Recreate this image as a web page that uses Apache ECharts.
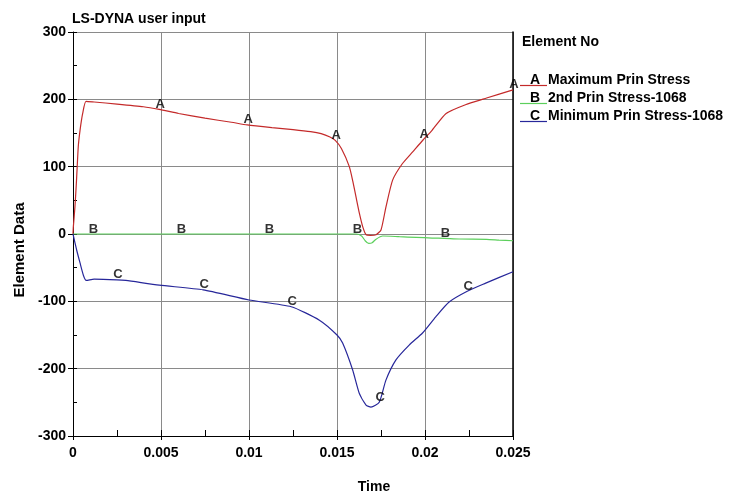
<!DOCTYPE html>
<html>
<head>
<meta charset="utf-8">
<script src="https://cdn.jsdelivr.net/npm/echarts@6/dist/echarts.min.js"></script>
<style>
  html, body { margin: 0; padding: 0; background: #fff; }
  #chart { width: 738px; height: 497px; }
</style>
</head>
<body>
<div id="chart"></div>
<script>
// Element stress histories (time in s, stress values)
const chartTitle = 'LS-DYNA user input';
const legendTitle = 'Element No';
const xTitle = 'Time';
const yTitle = 'Element Data';

const seriesNames = ['Maximum Prin Stress', '2nd Prin Stress-1068', 'Minimum Prin Stress-1068'];
const seriesCodes = ['A', 'B', 'C'];
const seriesColors = ['#c42a2a', '#5ccf5c', '#27279a'];

const timeA = [0, 0.00002, 0.00011, 0.0002, 0.0003, 0.0004, 0.00055, 0.00074, 0.0012, 0.0025, 0.0040, 0.0049,
  0.0060, 0.0075, 0.0090, 0.0099, 0.0113, 0.0125, 0.0135, 0.0141, 0.0146, 0.0149, 0.01525, 0.0157,
  0.0159, 0.01608, 0.01627, 0.01646, 0.01665, 0.0169, 0.01722, 0.0175, 0.01778, 0.01816, 0.0187, 0.0193,
  0.0199, 0.0204, 0.0212, 0.0223, 0.0235, 0.025];
const stressA = [0, 11, 40, 80, 130, 154, 179, 197, 196, 193, 189, 185,
  179, 172, 166, 162, 158, 155, 152, 149, 144, 139, 127, 100,
  78, 55, 31, 11, -1, -2, -1, 6, 40, 80, 104, 122,
  140, 154, 179, 192, 202, 214];
const labelTimesA = [0.0049, 0.0099, 0.0149, 0.0199, 0.025];

const timeB = [0, 0.0011, 0.0061, 0.0111, 0.0161, 0.0164, 0.0166, 0.0168, 0.0170, 0.0172, 0.0176,
  0.01854, 0.0195, 0.0204, 0.0211, 0.02194, 0.0235, 0.0242, 0.025];
const stressB = [0, 0, 0, 0, 0, -3, -10, -14, -13, -8, -3,
  -4, -5, -6, -6.5, -7.4, -8, -9, -10];
const labelTimesB = [0.0011, 0.0061, 0.0111, 0.0161, 0.0211];

const timeC = [0, 0.0002, 0.0004, 0.0006, 0.00075, 0.0012, 0.0025, 0.0030, 0.0049, 0.0074, 0.0100,
  0.0124, 0.0140, 0.0150, 0.01532, 0.01589, 0.01627, 0.01665, 0.01693, 0.0174, 0.01778, 0.01835,
  0.0191, 0.01986, 0.02061, 0.02137, 0.0224, 0.02345, 0.025];
const stressC = [0, -23, -43, -62, -69, -67, -68, -69, -76, -83, -98,
  -108, -128, -150, -162, -202, -237, -254, -257, -250, -217, -187,
  -165, -147, -123, -101, -85, -73, -56];
const labelTimesC = [0.0025, 0.0074, 0.0124, 0.0174, 0.0224];

const xMin = 0, xMax = 0.025, xStep = 0.005, xMinorStep = 0.0025;
const yMin = -300, yMax = 300, yStep = 100, yMinorStep = 50;

const FONT = '"Liberation Sans", Arial, sans-serif';
const GRID = { left: 73, right: 225, top: 32, bottom: 61 };

const timeSets = [timeA, timeB, timeC];
const valueSets = [stressA, stressB, stressC];
const labelSets = [labelTimesA, labelTimesB, labelTimesC];

const series = [];
seriesNames.forEach((name, k) => {
  const times = timeSets[k], values = valueSets[k];
  // the curve itself
  series.push({
    type: 'line',
    name: name,
    data: times.map((t, i) => [t, values[i]]),
    showSymbol: false,
    symbol: 'none',
    smooth: 0.2,
    lineStyle: { color: seriesColors[k], width: 1.2 },
    itemStyle: { color: seriesColors[k] },
    emphasis: { disabled: true },
    silent: true,
    z: 3
  });
  // curve identifier letters placed on selected samples of the curve
  series.push({
    type: 'scatter',
    name: name + ' id',
    data: times.map((t, i) => [t, values[i]]).filter(p => labelSets[k].indexOf(p[0]) >= 0),
    symbolSize: 1,
    itemStyle: { color: 'rgba(0,0,0,0)' },
    label: {
      show: true,
      position: 'inside',
      offset: [1, -5],
      formatter: () => seriesCodes[k],
      color: '#000',
      fontFamily: FONT,
      fontWeight: 'bold',
      fontSize: 13
    },
    emphasis: { disabled: true },
    silent: true,
    z: 4
  });
});

// Legend block on the right side of the plot
const legendX = 520, legendLineEnd = 547, legendTop = 80, legendRow = 18;
const legendGraphics = [{
  type: 'text', left: 522, top: 35,
  style: { text: legendTitle, fontFamily: FONT, fontWeight: 'bold', fontSize: 14, fill: '#000' }
}];
seriesNames.forEach((name, k) => {
  const cy = legendTop + k * legendRow;
  legendGraphics.push({
    type: 'line',
    shape: { x1: legendX, y1: cy + 5.5, x2: legendLineEnd, y2: cy + 5.5 },
    style: { stroke: seriesColors[k], lineWidth: 1.2 }
  });
  legendGraphics.push({
    type: 'text', x: 535, y: cy,
    style: { text: seriesCodes[k], align: 'center', verticalAlign: 'middle',
      fontFamily: FONT, fontWeight: 'bold', fontSize: 14, fill: '#000' }
  });
  legendGraphics.push({
    type: 'text', x: 548, y: cy,
    style: { text: name, align: 'left', verticalAlign: 'middle',
      fontFamily: FONT, fontWeight: 'bold', fontSize: 14, fill: '#000' }
  });
});

const chart = echarts.init(document.getElementById('chart'), null, { renderer: 'canvas' });
chart.setOption({
  animation: false,
  backgroundColor: '#fff',
  grid: GRID,
  xAxis: [{
    type: 'value', min: xMin, max: xMax, interval: xStep,
    axisLine: { onZero: false, lineStyle: { color: '#000', width: 1 } },
    axisTick: { show: true, inside: false, length: 4, lineStyle: { color: '#000' } },
    axisLabel: { margin: 10, color: '#000', fontFamily: FONT, fontWeight: 'bold', fontSize: 14,
      formatter: v => String(+v.toFixed(4)) },
    splitLine: { show: true, lineStyle: { color: '#8a8a8a', width: 1 } }
  }, {
    type: 'value', min: xMin, max: xMax, interval: xMinorStep, position: 'bottom',
    axisLine: { show: false, onZero: false },
    axisTick: { show: true, inside: true, length: 6, lineStyle: { color: '#000' } },
    axisLabel: { show: false },
    splitLine: { show: false }
  }],
  yAxis: [{
    type: 'value', min: yMin, max: yMax, interval: yStep,
    axisLine: { show: true, onZero: false, lineStyle: { color: '#000', width: 1 } },
    axisTick: { show: true, inside: false, length: 5, lineStyle: { color: '#000' } },
    axisLabel: { margin: 7, color: '#000', fontFamily: FONT, fontWeight: 'bold', fontSize: 14 },
    splitLine: { show: true, lineStyle: { color: '#8a8a8a', width: 1 } }
  }, {
    type: 'value', min: yMin, max: yMax, interval: yMinorStep, position: 'left',
    axisLine: { show: false, onZero: false },
    axisTick: { show: true, inside: true, length: 4, lineStyle: { color: '#000' } },
    axisLabel: { show: false },
    splitLine: { show: false }
  }, {
    type: 'value', min: yMin, max: yMax, interval: yStep, position: 'right',
    axisLine: { show: true, onZero: false, lineStyle: { color: '#000', width: 1.5 } },
    axisTick: { show: false },
    axisLabel: { show: false },
    splitLine: { show: false }
  }],
  series: series,
  graphic: [
    { type: 'text', left: 72, top: 12,
      style: { text: chartTitle, fontFamily: FONT, fontWeight: 'bold', fontSize: 14, fill: '#000' } },
    { type: 'text', x: 374, y: 487,
      style: { text: xTitle, align: 'center', verticalAlign: 'middle',
        fontFamily: FONT, fontWeight: 'bold', fontSize: 14, fill: '#000' } },
    { type: 'text', x: 20, y: 250, rotation: Math.PI / 2,
      style: { text: yTitle, align: 'center', verticalAlign: 'middle',
        fontFamily: FONT, fontWeight: 'bold', fontSize: 15, fill: '#000' } }
  ].concat(legendGraphics)
});
</script>
</body>
</html>
